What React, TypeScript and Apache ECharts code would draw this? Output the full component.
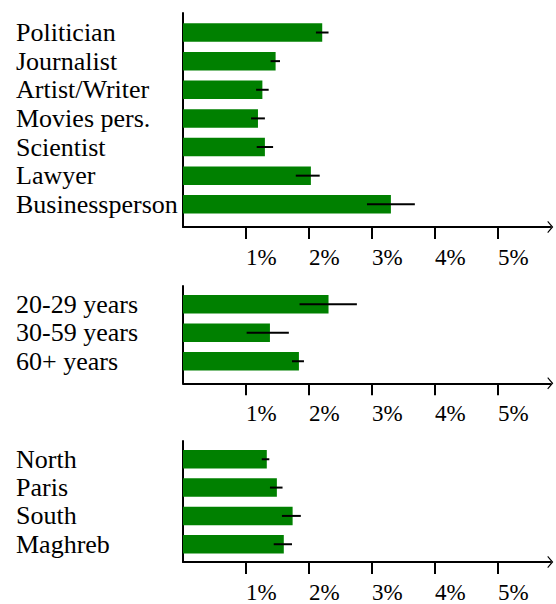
import React, { useEffect, useRef } from "react";
import * as echarts from "echarts";

const professions = ["Politician", "Journalist", "Artist/Writer", "Movies pers.", "Scientist", "Lawyer", "Businessperson"];
const professionValues = [2.21, 1.47, 1.26, 1.19, 1.3, 2.03, 3.3];
const professionLow = [2.11, 1.39, 1.16, 1.08, 1.17, 1.79, 2.92];
const professionHigh = [2.31, 1.54, 1.36, 1.3, 1.43, 2.17, 3.68];

const ages = ["20-29 years", "30-59 years", "60+ years"];
const ageValues = [2.31, 1.38, 1.84];
const ageLow = [1.85, 1.01, 1.73];
const ageHigh = [2.76, 1.68, 1.92];

const regions = ["North", "Paris", "South", "Maghreb"];
const regionValues = [1.33, 1.49, 1.74, 1.6];
const regionLow = [1.25, 1.38, 1.57, 1.44];
const regionHigh = [1.37, 1.58, 1.87, 1.73];

const tickValues = [1, 2, 3, 4, 5];

const XMAX = 5.83;
const PX_PER_UNIT = 63;
const LEFT = 183;
const WIDTH = XMAX * PX_PER_UNIT;
const FONT = "'Liberation Serif', 'Times New Roman', serif";
const GREEN = "#008000";
const CHEVRON = "path://M6,0L12,5.2L11.2,6L6,1.7L0.8,6L0,5.2Z";

const frames = [
  { top: 13, height: 214 },
  { top: 286, height: 97.3 },
  { top: 441, height: 122.3 },
];
const barGrids = [
  { top: 18.2, height: 200.4 },
  { top: 290, height: 85.5 },
  { top: 445.1, height: 113.3 },
];

const panels = [
  { cats: professions, vals: professionValues, low: professionLow, high: professionHigh },
  { cats: ages, vals: ageValues, low: ageLow, high: ageHigh },
  { cats: regions, vals: regionValues, low: regionLow, high: regionHigh },
];

export default function App() {
  const ref = useRef<HTMLDivElement>(null);
  useEffect(() => {
    if (!ref.current) return;
    const chart = echarts.init(ref.current, null, { renderer: "svg" });
    const grid: any[] = [];
    const xAxis: any[] = [];
    const yAxis: any[] = [];
    const series: any[] = [];

    frames.forEach((f, i) => {
      grid.push({ left: LEFT, width: WIDTH, top: f.top, height: f.height });
      xAxis.push({
        type: "value",
        gridIndex: i,
        min: 0,
        max: XMAX,
        interval: 1,
        axisLine: {
          show: true,
          symbol: ["none", CHEVRON],
          symbolSize: [12, 6],
          lineStyle: { color: "#000", width: 2 },
        },
        axisTick: {
          show: true,
          customValues: tickValues,
          length: 12,
          lineStyle: { color: "#000", width: 2 },
        },
        axisLabel: {
          show: true,
          showMinLabel: false,
          showMaxLabel: false,
          formatter: (v: number) => (tickValues.indexOf(v) >= 0 ? "{t|" + v + "%}" : ""),
          align: "left",
          margin: 19,
          fontSize: 23,
          fontFamily: FONT,
          color: "#000",
          rich: {
            t: { fontFamily: FONT, fontSize: 23, color: "#000" },
          },
        },
        splitLine: { show: false },
      });
      yAxis.push({
        type: "value",
        gridIndex: i,
        min: 0,
        max: 1,
        axisLine: { show: true, lineStyle: { color: "#000", width: 2 } },
        axisTick: { show: false },
        axisLabel: { show: false },
        splitLine: { show: false },
      });
    });

    barGrids.forEach((b, k) => {
      const gi = k + 3;
      const p = panels[k];
      grid.push({ left: LEFT, width: WIDTH, top: b.top, height: b.height });
      xAxis.push({ type: "value", gridIndex: gi, min: 0, max: XMAX, show: false });
      yAxis.push({
        type: "category",
        gridIndex: gi,
        data: p.cats,
        inverse: true,
        axisLine: { show: false },
        axisTick: { show: false },
        splitLine: { show: false },
        axisLabel: {
          interval: 0,
          align: "left",
          margin: 167,
          fontSize: 26,
          fontFamily: FONT,
          color: "#000",
          hideOverlap: false,
        },
      });
      series.push({
        type: "bar",
        xAxisIndex: gi,
        yAxisIndex: gi,
        data: p.vals,
        barWidth: 18.5,
        itemStyle: { color: GREEN },
        z: 3,
      });
      series.push({
        type: "custom",
        xAxisIndex: gi,
        yAxisIndex: gi,
        data: p.cats.map((_, i) => [i, p.low[i], p.high[i]]),
        encode: { x: [1, 2], y: 0 },
        z: 4,
        renderItem: (params: any, api: any) => {
          const idx = api.value(0);
          const s = api.coord([api.value(1), idx]);
          const e = api.coord([api.value(2), idx]);
          return {
            type: "line",
            shape: { x1: s[0], y1: s[1], x2: e[0], y2: e[1] },
            style: { stroke: "#000", lineWidth: 2 },
          };
        },
      });
    });

    chart.setOption({
      animation: false,
      backgroundColor: "#fff",
      textStyle: { fontFamily: FONT },
      grid,
      xAxis,
      yAxis,
      series,
    });
    return () => chart.dispose();
  }, []);
  return (
    <div
      ref={ref}
      style={{ position: "absolute", left: 0, top: 0, width: 556, height: 604 }}
    />
  );
}
